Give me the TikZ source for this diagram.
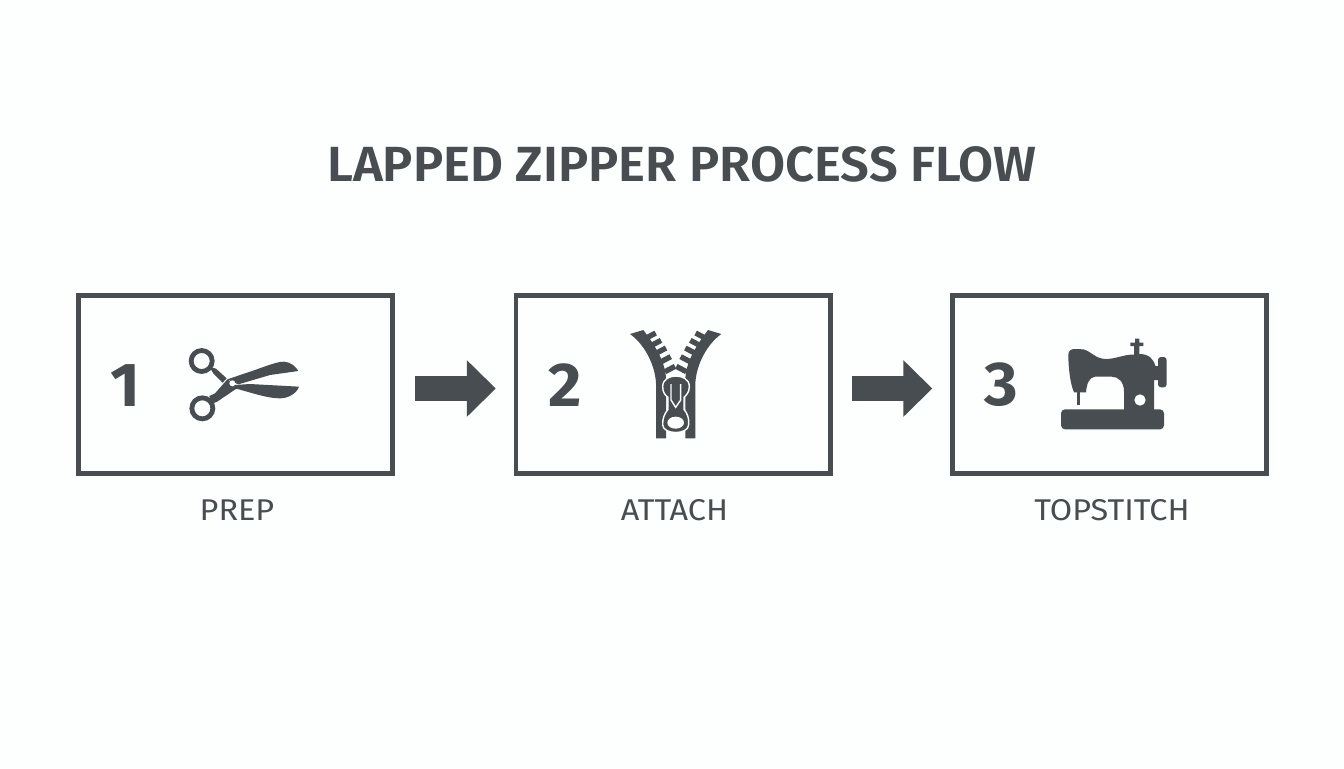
\documentclass[tikz,border=0pt]{standalone}
\usepackage{fontspec}
\setmainfont{Fira Sans}
\newfontfamily\titlefont[FakeStretch=1.03]{Fira Sans SemiBold}
\newfontfamily\numfont{Fira Sans}[FakeStretch=1.04]
\newfontfamily\capfont[FakeStretch=1.08]{Fira Sans}
\usetikzlibrary{arrows.meta}
\definecolor{ink}{HTML}{474D50}
\definecolor{paper}{HTML}{FDFEFE}
\tikzset{
  stepbox/.style={draw=ink,line width=2.3pt,fill=none,minimum width=157.2pt,minimum height=89pt,outer sep=0pt,inner sep=0pt},
  flowarrow/.style={draw=ink,line width=12.7pt,-{Triangle[length=14.5pt,width=27.5pt,color=ink]},shorten <=11pt,shorten >=10pt},
  numlabel/.style={text=ink,font=\numfont\fontsize{31}{31}\selectfont\bfseries,inner sep=0pt},
  caplabel/.style={text=ink,font=\capfont\fontsize{15}{15}\selectfont,inner sep=0pt},
  titlelabel/.style={text=ink,font=\titlefont\fontsize{24.7}{25}\selectfont,inner sep=0pt},
  zoomed/.style={shift={#1},x=0.16667pt,y=-0.16667pt},
}
\newcommand{\halfzip}{%
  \fill[ink] (60,42) -- (100,30) .. controls (130,70) and (165,120) .. (168,175) -- (168,355) -- (138,355) -- (138,190) .. controls (135,130) and (100,70) .. (60,42) -- cycle;
  \foreach \tx/\ty in {122/47,138/69,153/92,167/118,180/147}{
    \fill[ink,shift={(\tx,\ty)},rotate=28] (-17,-8) rectangle (17,8);
  }
}
\begin{document}
\begin{tikzpicture}[x=0.5pt,y=-0.5pt]
\useasboundingbox (0,0) rectangle (1344,768);
\fill[paper] (0,0) rectangle (1344,768);
\node[titlelabel] (title) at (682,164) {LAPPED ZIPPER PROCESS FLOW};
\node[stepbox] (box1) at (235.5,384.5) {};
\node[stepbox] (box2) at (673,384.5) {};
\node[stepbox] (box3) at (1109.5,384.5) {};
\node[numlabel] (n1) at (125,386) {1};
\node[numlabel] (n2) at (565,385) {2};
\node[numlabel] (n3) at (1001.5,385) {3};
\node[caplabel] (l1) at (237,510) {PREP};
\node[caplabel] (l2) at (674.5,510) {ATTACH};
\node[caplabel] (l3) at (1112,510) {TOPSTITCH};
\draw[flowarrow] (box1.east |- 0,388.5) -- (box2.west |- 0,388.5);
\draw[flowarrow] (box2.east |- 0,388.5) -- (box3.west |- 0,388.5);
% scissors
\begin{scope}[zoomed={(170,330)}]
  \draw[ink,line width=2.4pt] (95,93) circle (31.5);
  \draw[ink,line width=2.4pt] (97,235) circle (31.5);
  \fill[ink] (118,110) -- (138,116) -- (170,145) -- (158,158) -- (130,130) -- cycle;
  \fill[ink] (118,198) -- (135,190) -- (172,148) -- (205,172) -- (140,216) -- (122,222) -- cycle;
  \fill[ink] (172,148) -- (240,125) .. controls (290,108) and (320,95) .. (342,95) .. controls (362,96) and (378,110) .. (385,123) -- (300,135) -- (205,163) -- cycle;
  \fill[ink] (195,165) -- (240,162) -- (387,170) .. controls (380,190) and (355,205) .. (330,205) .. controls (290,205) and (235,185) .. (195,175) -- cycle;
  \fill[white] (187,160) circle (9);
\end{scope}
% zipper
\begin{scope}[zoomed={(610,320)}]
  \halfzip
  \begin{scope}[shift={(394,0)},xscale=-1]
    \halfzip
  \end{scope}
  \path[fill=ink,draw=paper,line width=0.7pt] (158,200) .. controls (158,178) and (178,168) .. (197,168) .. controls (218,168) and (238,178) .. (238,200) .. controls (238,218) and (228,226) .. (222,232) -- (222,268) .. controls (232,280) and (238,295) .. (236,315) .. controls (234,345) and (160,345) .. (158,315) .. controls (157,295) and (164,280) .. (174,268) -- (174,232) .. controls (166,226) and (158,218) .. (158,200) -- cycle;
  \draw[paper,line width=0.7pt] (183,192) -- (183,240) -- (197,262) -- (212,240) -- (212,192);
  \fill[paper] (197,308) ellipse (25 and 18);
\end{scope}
% sewing machine
\begin{scope}[zoomed={(1050,330)}]
  \fill[ink,rounded corners=2pt] (33,238) rectangle (342,298);
  \fill[ink] (55,75) .. controls (55,62) and (62,57) .. (75,57) -- (100,58) .. controls (125,65) and (135,85) .. (165,87) .. controls (195,88) and (225,72) .. (252,74) -- (252,48) -- (241,48) -- (241,38) -- (255,38) -- (255,26) -- (268,26) -- (268,38) -- (280,38) -- (280,48) -- (268,48) -- (268,72) .. controls (295,72) and (310,85) .. (316,108) -- (330,108) -- (330,150) -- (312,150) -- (312,240) -- (222,240) -- (222,185) .. controls (222,155) and (205,140) .. (185,140) -- (135,140) .. controls (118,142) and (110,160) .. (108,187) -- (72,187) .. controls (60,160) and (55,110) .. (55,75) -- cycle;
  \fill[ink,rounded corners=1.5pt] (324,81) rectangle (350,172);
  \fill[ink] (80,185) -- (90,185) -- (90,226) -- (80,226) -- cycle;
  \fill[paper] (270,210) circle (17);
\end{scope}
\end{tikzpicture}
\end{document}
